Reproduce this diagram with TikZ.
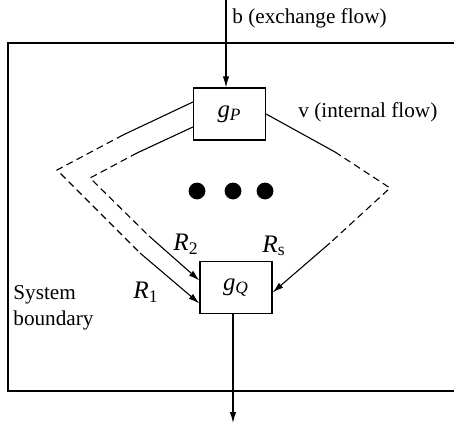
\documentclass[tikz,border=0pt]{standalone}
\usepackage{fontspec}
\setmainfont{Liberation Serif}
\usetikzlibrary{calc,arrows.meta}
\tikzset{proc/.style={draw, line width=0.6pt, minimum width=36pt, minimum height=26pt, inner sep=0pt, font=\fontsize{12.4}{14}\selectfont},
  flow/.style={line width=0.55pt}, hidden/.style={flow, dash pattern=on 3.5pt off 2.2pt},
  lab/.style={inner sep=0pt}, sym/.style={lab, font=\fontsize{12.6}{14}\selectfont}}

\begin{document}
\begin{tikzpicture}[x=0.5pt, y=-0.5pt, font=\fontsize{10.6}{13}\selectfont, >={Latex[length=5.5pt,width=3.2pt]}]
\useasboundingbox (0,0) rectangle (454,423);
\draw[line width=0.65pt] (454,43) -- (8,43) -- (8,391) -- (454,391);
\node[proc] (gP) at (229.5,114) {\textit{g}\textsubscript{\textit{P}}}; \node[proc] (gQ) at (236,287.5) {\textit{g}\textsubscript{\textit{Q}}};
\coordinate (bin) at (226,0); \coordinate (qout) at (233,423);
\draw[flow, ->] (bin) -- (bin |- gP.north); \draw[flow, ->] (gQ.south -| qout) -- (qout);
\node[lab, anchor=west] (bl) at (232,18) {b (exchange flow)}; \node[lab, anchor=west] (vl) at (298,112) {v (internal flow)};
\coordinate (a1) at (123,135); \coordinate (c1) at (57,170); \coordinate (a2) at (140,253);
\draw[flow] ($(gP.west)+(0,-12)$) -- (a1); \draw[hidden] (a1) -- (c1) -- (a2); \draw[flow, ->] (a2) -- ($(gQ.west)+(0,16)$);
\coordinate (b1) at (137,153); \coordinate (c2) at (90,178); \coordinate (b2) at (149,236);
\draw[flow] ($(gP.west)+(0,13)$) -- (b1); \draw[hidden] (b1) -- (c2) -- (b2); \draw[flow, ->] (b2) -- ($(gQ.west)+(0,-7)$);
\coordinate (d1) at (335,152); \coordinate (c3) at (390,188); \coordinate (d2) at (330,243);
\draw[flow] (gP.east) -- (d1); \draw[hidden] (d1) -- (c3) -- (d2); \draw[flow, ->] (d2) -- ($(gQ.east)+(0,5)$);
\foreach \x in {197,233,265} \fill (\x,191) circle (4.2pt);
\node[sym] (r2) at (186,244) {\textit{R}\textsubscript{2}}; \node[sym] (rs) at (274,246) {\textit{R}\textsubscript{s}};
\node[sym] (r1) at (146,292) {\textit{R}\textsubscript{1}};
\node[lab, anchor=west, align=left] (sb) at (13,308) {System\\boundary};
\end{tikzpicture}
\end{document}
